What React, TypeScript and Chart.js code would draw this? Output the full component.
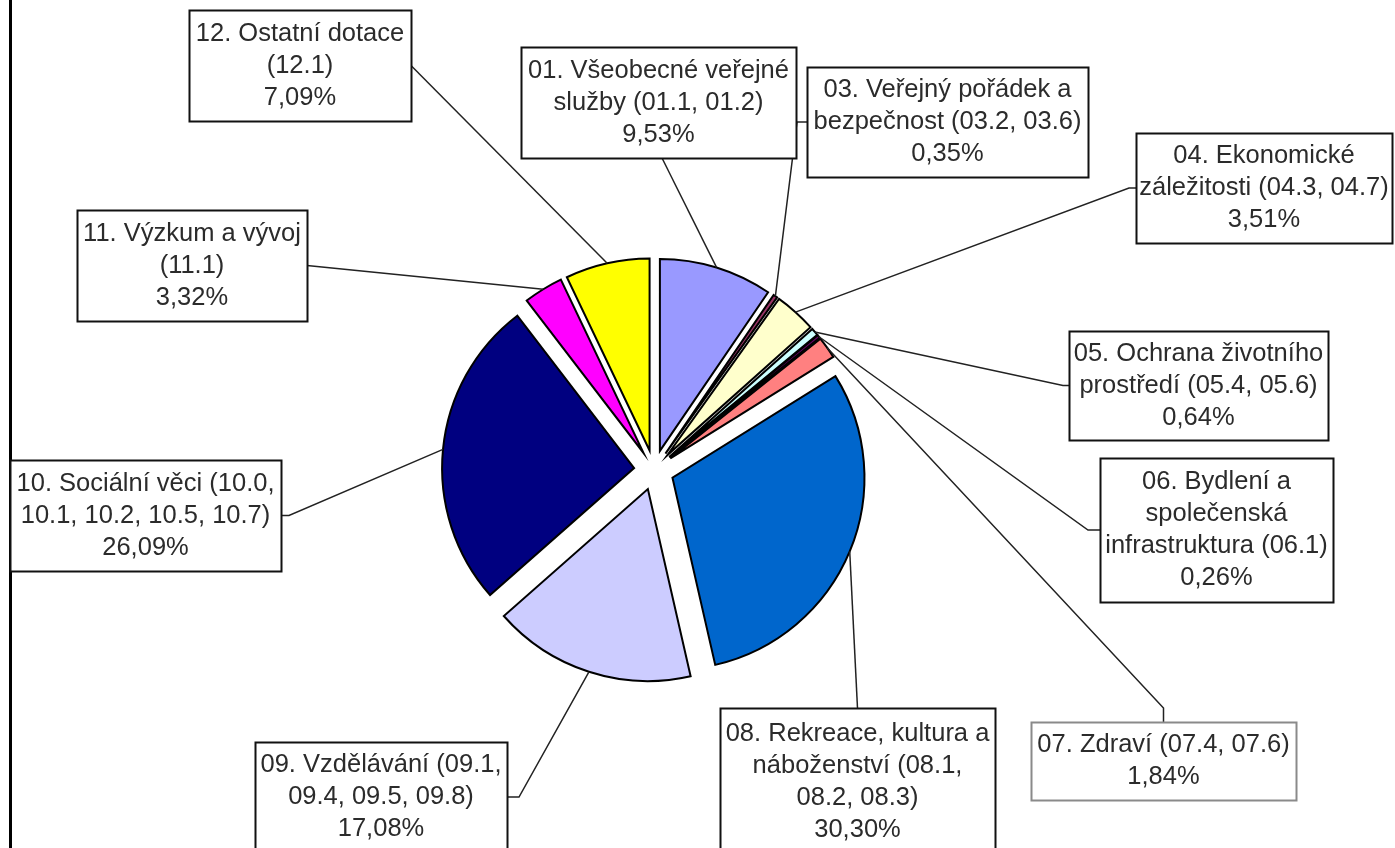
import React, { useEffect, useRef } from 'react';
import { Chart, registerables } from 'chart.js';

Chart.register(...registerables);

// ---------------- DATA ----------------
const categories: string[] = ['01', '03', '04', '05', '06', '07', '08', '09', '10', '11', '12'];

const labelLines: string[][] = [
  ['01. Všeobecné veřejné', 'služby (01.1, 01.2)'],
  ['03. Veřejný pořádek a', 'bezpečnost (03.2, 03.6)'],
  ['04. Ekonomické', 'záležitosti (04.3, 04.7)'],
  ['05. Ochrana životního', 'prostředí (05.4, 05.6)'],
  ['06. Bydlení a', 'společenská', 'infrastruktura (06.1)'],
  ['07. Zdraví (07.4, 07.6)'],
  ['08. Rekreace, kultura a', 'náboženství (08.1,', '08.2, 08.3)'],
  ['09. Vzdělávání (09.1,', '09.4, 09.5, 09.8)'],
  ['10. Sociální věci (10.0,', '10.1, 10.2, 10.5, 10.7)'],
  ['11. Výzkum a vývoj', '(11.1)'],
  ['12. Ostatní dotace', '(12.1)'],
];

const values: number[] = [9.53, 0.35, 3.51, 0.64, 0.26, 1.84, 30.3, 17.08, 26.09, 3.32, 7.09];

const colors: string[] = [
  '#9999FF', '#993366', '#FFFFCC', '#CCFFFF', '#660066', '#FF8080',
  '#0066CC', '#CCCCFF', '#000080', '#FF00FF', '#FFFF00',
];

// ---------------- LAYOUT / STYLE ----------------
type Side = 'left' | 'right' | 'top' | 'bottom';
interface LabelBox {
  x: number; y: number; w: number; h: number;
  side: Side; stub: number; along?: number; border?: string;
}

const labelBoxes: LabelBox[] = [
  { x: 521, y: 47, w: 275, h: 111, side: 'bottom', stub: 0, along: 662 },
  { x: 807, y: 67, w: 281, h: 110, side: 'left', stub: 10 },
  { x: 1136, y: 133, w: 256, h: 110, side: 'left', stub: 7 },
  { x: 1069, y: 331, w: 259, h: 109, side: 'left', stub: 6 },
  { x: 1100, y: 458, w: 233, h: 144, side: 'left', stub: 12 },
  { x: 1031, y: 722, w: 265, h: 78, side: 'top', stub: 14, border: '#8a8a8a' },
  { x: 720, y: 708, w: 275, h: 147, side: 'top', stub: 0 },
  { x: 255, y: 742, w: 252, h: 110, side: 'right', stub: 12, along: 797 },
  { x: 10, y: 460, w: 271, h: 111, side: 'right', stub: 8 },
  { x: 77, y: 210, w: 230, h: 111, side: 'right', stub: 0 },
  { x: 189, y: 10, w: 222, h: 111, side: 'right', stub: 0 },
];

const WIDTH = 1395;
const HEIGHT = 848;
const PIE_RADIUS = 192;
const EXPLODE = 20;
const FRAME_X = 10.5;
const FONT = '25.5px "Liberation Sans", Arial, sans-serif';
const LINE_H = 32;

const pct = (v: number) => v.toFixed(2).replace('.', ',') + '%';

const explodePlugin = {
  id: 'explode',
  afterUpdate(chart: any) {
    const meta = chart.getDatasetMeta(0);
    for (const arc of meta.data as any[]) {
      const mid = (arc.startAngle + arc.endAngle) / 2;
      arc.x += Math.cos(mid) * EXPLODE;
      arc.y += Math.sin(mid) * EXPLODE;
    }
  },
};

const calloutPlugin = {
  id: 'callouts',
  afterDraw(chart: any) {
    const ctx: CanvasRenderingContext2D = chart.ctx;
    const meta = chart.getDatasetMeta(0);
    ctx.save();

    // left frame line
    ctx.strokeStyle = '#000';
    ctx.lineWidth = 3;
    ctx.beginPath();
    ctx.moveTo(FRAME_X, 0);
    ctx.lineTo(FRAME_X, chart.height);
    ctx.stroke();

    // leader lines
    (meta.data as any[]).forEach((arc, i) => {
      const b = labelBoxes[i];
      const mid = (arc.startAngle + arc.endAngle) / 2;
      const ax = arc.x + Math.cos(mid) * arc.outerRadius;
      const ay = arc.y + Math.sin(mid) * arc.outerRadius;
      let px = 0, py = 0, sx = 0, sy = 0;
      if (b.side === 'left') {
        px = b.x; py = b.along ?? b.y + b.h / 2; sx = px - b.stub; sy = py;
      } else if (b.side === 'right') {
        px = b.x + b.w; py = b.along ?? b.y + b.h / 2; sx = px + b.stub; sy = py;
      } else if (b.side === 'top') {
        px = b.along ?? b.x + b.w / 2; py = b.y; sx = px; sy = py - b.stub;
      } else {
        px = b.along ?? b.x + b.w / 2; py = b.y + b.h; sx = px; sy = py + b.stub;
      }
      ctx.strokeStyle = '#222';
      ctx.lineWidth = 1.5;
      ctx.beginPath();
      ctx.moveTo(ax, ay);
      ctx.lineTo(sx, sy);
      ctx.lineTo(px, py);
      ctx.stroke();
    });

    // boxes + text
    ctx.font = FONT;
    ctx.textAlign = 'center';
    ctx.textBaseline = 'middle';
    labelBoxes.forEach((b, i) => {
      ctx.fillStyle = '#fff';
      ctx.fillRect(b.x, b.y, b.w, b.h);
      ctx.strokeStyle = b.border ?? '#111';
      ctx.lineWidth = 2;
      ctx.strokeRect(b.x + 0.5, b.y + 0.5, b.w, b.h);
      const lines = [...labelLines[i], pct(values[i])];
      const cx = b.x + b.w / 2;
      const cy = b.y + b.h / 2;
      ctx.fillStyle = '#2b2b2b';
      lines.forEach((t, k) => {
        const y = cy + (k - (lines.length - 1) / 2) * LINE_H;
        ctx.fillText(t, cx, y, b.w - 4);
      });
    });
    ctx.restore();
  },
};

export default function App() {
  const ref = useRef<HTMLCanvasElement | null>(null);

  useEffect(() => {
    if (!ref.current) return;
    const chart = new Chart(ref.current, {
      type: 'pie',
      data: {
        labels: categories,
        datasets: [
          {
            data: values,
            backgroundColor: colors,
            borderColor: '#000',
            borderWidth: 2,
            borderJoinStyle: 'miter',
            radius: PIE_RADIUS,
          } as any,
        ],
      },
      options: {
        responsive: false,
        animation: false,
        events: [],
        devicePixelRatio: 1,
        layout: { padding: { left: 0, right: 87, top: 92, bottom: 0 } },
        plugins: {
          legend: { display: false },
          tooltip: { enabled: false },
        },
      },
      plugins: [explodePlugin, calloutPlugin],
    });
    return () => chart.destroy();
  }, []);

  return (
    <div style={{ position: 'fixed', left: 0, top: 0, width: WIDTH, height: HEIGHT, background: '#fff' }}>
      <canvas ref={ref} width={WIDTH} height={HEIGHT} style={{ display: 'block' }} />
    </div>
  );
}
